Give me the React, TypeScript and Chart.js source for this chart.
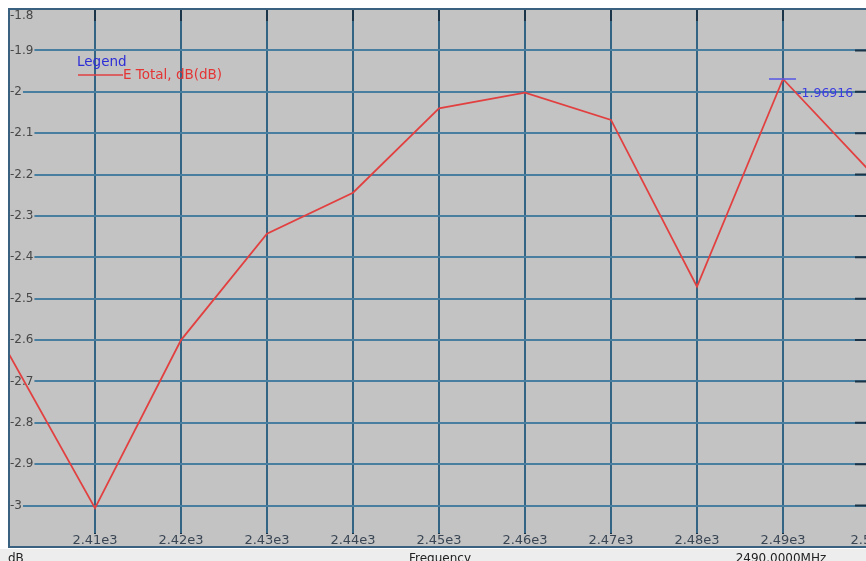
import { useEffect, useRef } from "react";
import { Chart, registerables } from "chart.js";

Chart.register(...registerables);

// Sweep frequencies (MHz) and the E-field total gain (dB) at each one
const frequencies = [2400, 2410, 2420, 2430, 2440, 2450, 2460, 2470, 2480, 2490, 2500];
const eTotalDb = [-2.634, -3.006, -2.6, -2.343, -2.244, -2.04, -2.002, -2.068, -2.471, -1.96916, -2.19];

const xTickValues = [2410, 2420, 2430, 2440, 2450, 2460, 2470, 2480, 2490, 2500];
const xTickLabels = ["2.41e3", "2.42e3", "2.43e3", "2.44e3", "2.45e3", "2.46e3", "2.47e3", "2.48e3", "2.49e3", "2.5e3"];
const yTickValues = [-1.8, -1.9, -2, -2.1, -2.2, -2.3, -2.4, -2.5, -2.6, -2.7, -2.8, -2.9, -3];
const yTickLabels = ["-1.8", "-1.9", "-2", "-2.1", "-2.2", "-2.3", "-2.4", "-2.5", "-2.6", "-2.7", "-2.8", "-2.9", "-3"];

const legendTitle = "Legend";
const seriesName = "E Total, dB(dB)";
const markerFrequency = 2490;
const markerValue = -1.96916;
const markerValueLabel = "-1.96916";
const markerFrequencyLabel = "2490.0000MHz";
const yUnitLabel = "dB";
const xAxisTitle = "Frequency";

const PLOT_BG = "#c3c3c3";
const LINE_RED = "rgb(226,64,64)";

const plotDecor = {
  id: "plotDecor",
  beforeDraw(chart: any) {
    const { ctx, chartArea: a, width, height } = chart;
    ctx.save();
    ctx.fillStyle = "#ffffff";
    ctx.fillRect(0, 0, width, height);
    ctx.fillStyle = "#ededed";
    ctx.fillRect(0, a.bottom + 2, width, height - a.bottom - 2);
    ctx.fillStyle = PLOT_BG;
    ctx.fillRect(a.left, a.top, a.right - a.left, a.bottom - a.top);
    ctx.restore();
  },
  // tick labels sit on the grid but under the curve
  beforeDatasetsDraw(chart: any) {
    const { ctx, chartArea: a } = chart;
    const xs = chart.scales.x;
    const ys = chart.scales.y;
    ctx.save();

    // short axis tick marks along the frame
    ctx.strokeStyle = "rgb(28,52,72)";
    ctx.lineWidth = 2;
    ctx.beginPath();
    xTickValues.forEach((v) => {
      const px = xs.getPixelForValue(v);
      ctx.moveTo(px, a.top);
      ctx.lineTo(px, a.top + 12);
      ctx.moveTo(px, a.bottom);
      ctx.lineTo(px, a.bottom - 14);
    });
    yTickValues.forEach((v) => {
      const py = ys.getPixelForValue(v);
      ctx.moveTo(a.right, py);
      ctx.lineTo(a.right - 14, py);
    });
    ctx.stroke();

    ctx.font = "12px 'DejaVu Sans', sans-serif";
    ctx.textAlign = "left";
    ctx.textBaseline = "middle";
    yTickValues.forEach((v, i) => {
      const py = Math.max(ys.getPixelForValue(v), a.top + 7);
      const w = ctx.measureText(yTickLabels[i]).width;
      ctx.fillStyle = PLOT_BG;
      ctx.fillRect(a.left + 1, py - 6, w + 1, 12);
      ctx.fillStyle = "#474747";
      ctx.fillText(yTickLabels[i], a.left + 1, py);
    });

    ctx.font = "13px 'DejaVu Sans', sans-serif";
    ctx.textAlign = "center";
    xTickValues.forEach((v, i) => {
      const px = xs.getPixelForValue(v);
      const w = ctx.measureText(xTickLabels[i]).width;
      ctx.fillStyle = PLOT_BG;
      ctx.fillRect(px - w / 2, a.bottom - 13, w, 12);
      ctx.fillStyle = "#3a4654";
      ctx.fillText(xTickLabels[i], px, a.bottom - 6);
    });
    ctx.restore();
  },
  afterDraw(chart: any) {
    const { ctx, chartArea: a } = chart;
    const xs = chart.scales.x;
    const ys = chart.scales.y;
    ctx.save();

    // frame
    ctx.strokeStyle = "rgb(58,98,128)";
    ctx.lineWidth = 2;
    ctx.strokeRect(a.left, a.top, a.right - a.left, a.bottom - a.top);

    // legend
    ctx.font = "13.5px 'DejaVu Sans', sans-serif";
    ctx.textAlign = "left";
    ctx.textBaseline = "middle";
    ctx.fillStyle = "rgb(45,45,215)";
    ctx.fillText(legendTitle, 77, 62);
    ctx.strokeStyle = LINE_RED;
    ctx.lineWidth = 1.5;
    ctx.beginPath();
    ctx.moveTo(78, 75);
    ctx.lineTo(123, 75);
    ctx.stroke();
    ctx.fillStyle = "rgb(228,52,52)";
    ctx.fillText(seriesName, 123, 75);

    // marker at the peak
    const mx = xs.getPixelForValue(markerFrequency);
    const my = ys.getPixelForValue(markerValue);
    ctx.strokeStyle = "rgb(85,85,230)";
    ctx.lineWidth = 1.5;
    ctx.beginPath();
    ctx.moveTo(mx - 14, my);
    ctx.lineTo(mx + 13, my);
    ctx.stroke();
    ctx.font = "12.5px 'DejaVu Sans', sans-serif";
    ctx.fillStyle = "rgb(60,60,225)";
    ctx.fillText(markerValueLabel, mx + 14, my + 15);

    // strip below the plot
    ctx.font = "12px 'DejaVu Sans', sans-serif";
    ctx.textBaseline = "top";
    ctx.fillStyle = "#222222";
    ctx.textAlign = "left";
    ctx.fillText(yUnitLabel, a.left - 1, a.bottom + 6);
    ctx.textAlign = "center";
    ctx.fillText(xAxisTitle, 440, a.bottom + 6);
    ctx.fillText(markerFrequencyLabel, mx - 2, a.bottom + 6);

    ctx.restore();
  },
};

export default function App() {
  const canvasRef = useRef<HTMLCanvasElement | null>(null);

  useEffect(() => {
    const canvas = canvasRef.current;
    if (!canvas) return;
    const chart = new Chart(canvas, {
      type: "line",
      data: {
        datasets: [
          {
            label: seriesName,
            data: frequencies.map((f, i) => ({ x: f, y: eTotalDb[i] })),
            borderColor: LINE_RED,
            borderWidth: 1.8,
            pointRadius: 0,
            tension: 0,
            fill: false,
          },
        ],
      },
      options: {
        responsive: false,
        animation: false,
        devicePixelRatio: 1,
        layout: { padding: { left: 9, top: 9, right: 11, bottom: 14 } },
        plugins: {
          legend: { display: false },
          tooltip: { enabled: false },
        },
        scales: {
          x: {
            type: "linear",
            min: 2400,
            max: 2500,
            ticks: { display: false, stepSize: 10 },
            grid: { color: "rgb(52,100,132)", lineWidth: 2, drawTicks: false },
            border: { display: false },
          },
          y: {
            type: "linear",
            min: -3.1,
            max: -1.8,
            ticks: { display: false, stepSize: 0.1 },
            grid: { color: "rgb(72,126,160)", lineWidth: 2, drawTicks: false },
            border: { display: false },
          },
        },
      },
      plugins: [plotDecor],
    });
    return () => chart.destroy();
  }, []);

  return (
    <div
      style={{
        position: "fixed",
        left: 0,
        top: 0,
        width: 866,
        height: 561,
        overflow: "hidden",
        background: "#ffffff",
      }}
    >
      <canvas ref={canvasRef} width={880} height={561} style={{ display: "block", width: 880, height: 561 }} />
    </div>
  );
}
